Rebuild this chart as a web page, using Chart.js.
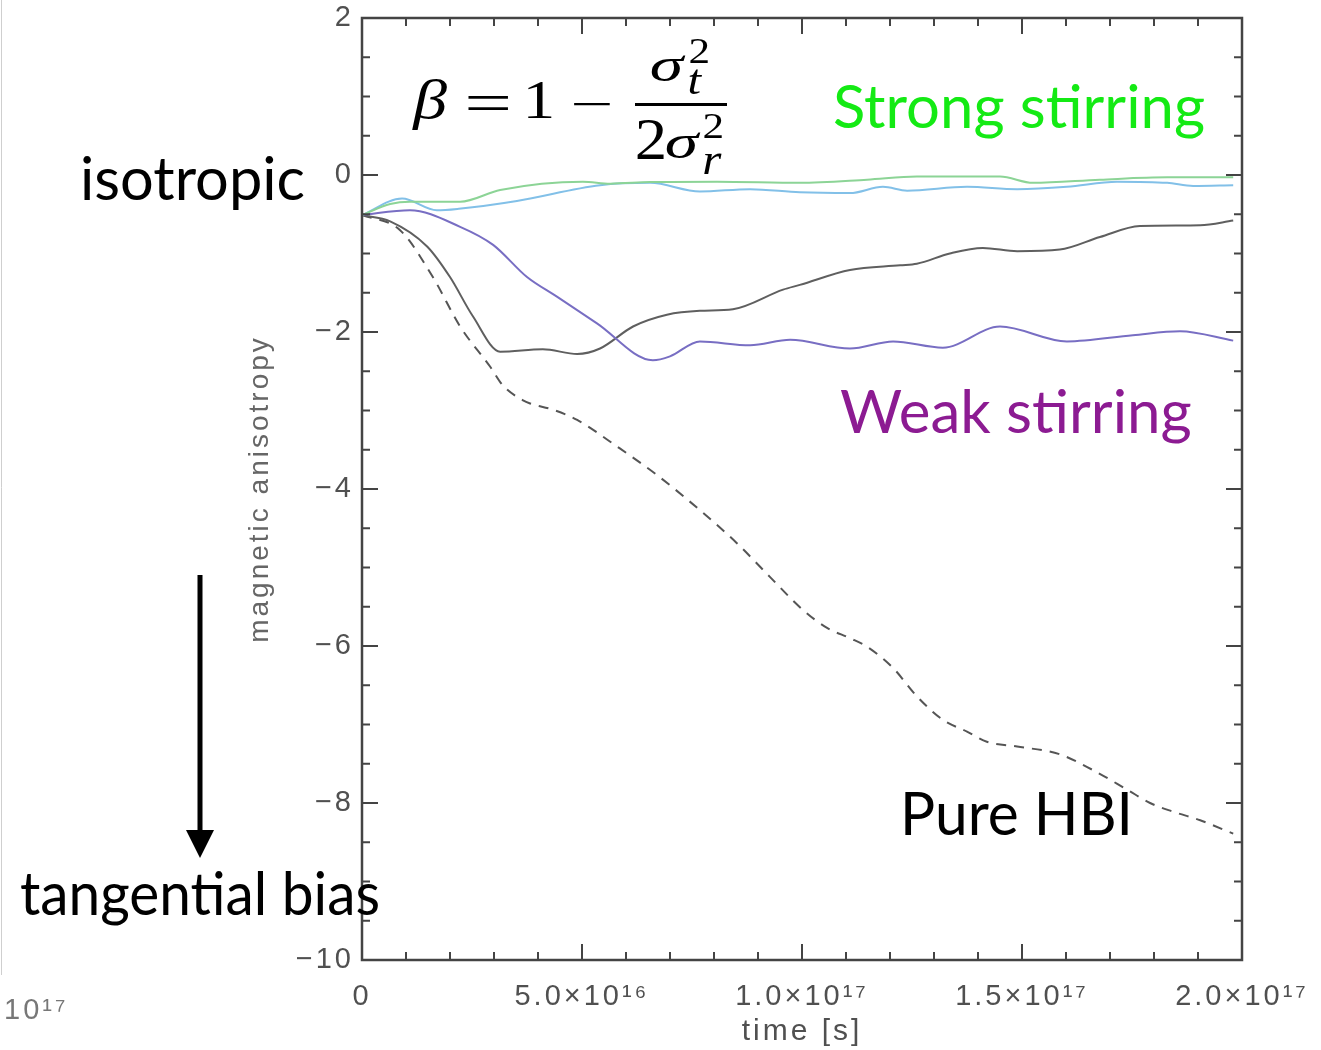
<!DOCTYPE html>
<html>
<head>
<meta charset="utf-8">
<script src="https://cdn.jsdelivr.net/npm/chart.js@4.4.0/dist/chart.umd.min.js"></script>
<style>
  body { margin: 0; background: #fff; }
  #wrap { width: 1321px; height: 1050px; }
</style>
</head>
<body>
<div id="wrap"><canvas id="anisoChart" width="1321" height="1050"></canvas></div>
<script>
// magnetic anisotropy vs time (time in units of 1e16 s)

const strongT1 = [0, 0.64, 1.09, 2.23, 3.14, 5.02, 5.64, 6.55, 8.07, 9.95, 11.48, 12.61, 14.5, 15.25, 16.77, 18.3, 19.8]
const strongA1 = [-0.51, -0.37, -0.34, -0.34, -0.19, -0.085, -0.11, -0.09, -0.085, -0.10, -0.06, -0.02, -0.02, -0.1, -0.06, -0.03, -0.03]

const strongT2 = [0, 0.91, 1.7, 2.2, 3.52, 5.41, 6.55, 7.68, 8.82, 9.95, 11.09, 11.84, 12.39, 13.75, 14.89, 16.02, 17.16, 18.3, 18.89, 19.8]
const strongA2 = [-0.51, -0.30, -0.45, -0.43, -0.33, -0.13, -0.10, -0.21, -0.18, -0.22, -0.23, -0.15, -0.20, -0.15, -0.18, -0.15, -0.085, -0.10, -0.14, -0.13]

const weakT = [0, 1.09, 2.23, 2.98, 3.75, 4.43, 5.34, 6.61, 7.0, 7.68, 8.82, 9.73, 11.09, 12.07, 13.2, 14.5, 16.02, 17.52, 18.59, 19.8]
const weakA = [-0.51, -0.45, -0.66, -0.89, -1.30, -1.55, -1.89, -2.36, -2.31, -2.12, -2.17, -2.10, -2.21, -2.12, -2.20, -1.93, -2.12, -2.04, -1.99, -2.11]

const midT = [0, 0.64, 1.48, 2.0, 2.52, 3.14, 4.11, 4.89, 5.41, 6.16, 6.93, 7.68, 8.43, 9.57, 9.95, 11.09, 12.23, 12.61, 13.36, 14.11, 14.89, 15.86, 16.77, 17.68, 19.05, 19.8]
const midA = [-0.51, -0.59, -0.91, -1.30, -1.80, -2.25, -2.22, -2.28, -2.21, -1.93, -1.78, -1.73, -1.71, -1.46, -1.40, -1.21, -1.15, -1.13, -1.0, -0.93, -0.97, -0.95, -0.79, -0.65, -0.64, -0.58]

const hbiT = [0, 0.86, 1.61, 2.23, 2.91, 3.20, 3.66, 3.82, 4.34, 4.89, 5.80, 6.70, 7.68, 8.52, 9.27, 10.02, 10.57, 11.09, 11.48, 12.07, 12.61, 13.2, 13.75, 14.2, 14.89, 15.86, 16.61, 17.39, 17.91, 18.43, 19.05, 19.8]
const hbiA = [-0.51, -0.70, -1.30, -1.93, -2.44, -2.68, -2.87, -2.91, -2.99, -3.12, -3.46, -3.82, -4.27, -4.69, -5.12, -5.54, -5.77, -5.90, -6.01, -6.28, -6.64, -6.94, -7.09, -7.22, -7.28, -7.38, -7.58, -7.83, -8.0, -8.11, -8.22, -8.39]

const xTickLabels = { 0: '0', 5: '5.0×10¹⁶', 10: '1.0×10¹⁷', 15: '1.5×10¹⁷', 20: '2.0×10¹⁷' }
const yTickLabels = { 2: '2', 0: '0', '-2': '\u22122', '-4': '\u22124', '-6': '\u22126', '-8': '\u22128', '-10': '\u221210' }

const toPoints = (ts, vs) => ts.map((t, i) => ({ x: t, y: vs[i] }))

const axisGrey = '#505050'
const sansFamily = '"Liberation Sans", Arial, sans-serif'
const axisFont = { family: sansFamily, size: 29 }

const noScalePadding = s => {
    s.paddingTop = 0; s.paddingBottom = 0; s.paddingLeft = 0; s.paddingRight = 0
}

// draw a glyph stretched into an ink box (left, top, right, bottom)
const drawInk = (ctx, text, font, l, t, r, b) => {
    ctx.save()
    ctx.font = font
    ctx.textAlign = 'left'
    ctx.textBaseline = 'alphabetic'
    const m = ctx.measureText(text)
    const w = m.actualBoundingBoxLeft + m.actualBoundingBoxRight
    const h = m.actualBoundingBoxAscent + m.actualBoundingBoxDescent
    ctx.translate(l, t)
    ctx.scale((r - l) / w, (b - t) / h)
    ctx.fillText(text, m.actualBoundingBoxLeft, m.actualBoundingBoxAscent)
    ctx.restore()
}

// inward ticks on all four sides + frame
const frameTicks = {
    id: 'frameTicks',
    beforeDraw(chart) {
        chart.ctx.letterSpacing = '3px'
    },
    afterDatasetsDraw(chart) {
        const { ctx, chartArea: a, scales } = chart
        ctx.save()
        ctx.strokeStyle = '#444'
        ctx.lineWidth = 2.5
        ctx.strokeRect(a.left, a.top, a.right - a.left, a.bottom - a.top)
        ctx.lineWidth = 2
        scales.x.ticks.forEach(t => {
            const px = scales.x.getPixelForValue(t.value)
            const len = (t.value % 5 === 0) ? 16 : 8
            ctx.beginPath()
            ctx.moveTo(px, a.bottom); ctx.lineTo(px, a.bottom - len)
            ctx.moveTo(px, a.top); ctx.lineTo(px, a.top + len)
            ctx.stroke()
        })
        scales.y.ticks.forEach(t => {
            const py = scales.y.getPixelForValue(t.value)
            const len = (Math.abs(t.value) % 2 === 0) ? 16 : 8
            ctx.beginPath()
            ctx.moveTo(a.left, py); ctx.lineTo(a.left + len, py)
            ctx.moveTo(a.right, py); ctx.lineTo(a.right - len, py)
            ctx.stroke()
        })
        ctx.restore()
    },
    afterDraw(chart) {
        const ctx = chart.ctx
        ctx.save()
        ctx.textBaseline = 'alphabetic'
        ctx.textAlign = 'left'

        // stray panel edge on the left
        ctx.strokeStyle = '#cfcfcf'
        ctx.lineWidth = 1
        ctx.beginPath(); ctx.moveTo(1.5, 0); ctx.lineTo(1.5, 975); ctx.stroke()
        ctx.fillStyle = '#777'
        ctx.font = '29px ' + sansFamily
        ctx.letterSpacing = '3px'
        ctx.fillText('10¹⁷', 4, 1019)
        ctx.letterSpacing = '0px'

        // formula  beta = 1 - sigma_t^2 / (2 sigma_r^2)
        ctx.fillStyle = '#000'
        const serif = '"Liberation Serif", "Times New Roman", serif'
        const it = 'italic 60px ' + serif
        const up = '60px ' + serif
        drawInk(ctx, 'β', it, 412, 80, 447, 130)
        drawInk(ctx, '=', up, 467, 97, 508, 111)
        drawInk(ctx, '1', up, 528, 82, 552, 118)
        drawInk(ctx, '\u2212', up, 573, 102, 610, 105)
        ctx.fillRect(635, 103, 92, 3)
        drawInk(ctx, 'σ', it, 651, 57, 686, 82)
        drawInk(ctx, '2', up, 690, 40, 708, 63)
        drawInk(ctx, 't', it, 689, 70, 702, 95)
        drawInk(ctx, '2', up, 637, 120, 664, 159)
        drawInk(ctx, 'σ', it, 666, 134, 701, 159)
        drawInk(ctx, '2', up, 704, 115, 722, 138)
        drawInk(ctx, 'r', it, 704, 153, 722, 174)

        // labels
        ctx.font = '60px Lato, "Open Sans", sans-serif'
        ctx.fillStyle = '#14ea14'
        ctx.fillText('Strong stirring', 833, 128, 372)
        ctx.fillStyle = '#8c1b92'
        ctx.fillText('Weak stirring', 840, 433, 352)
        ctx.fillStyle = '#000'
        ctx.fillText('Pure HBI', 900, 835, 233)
        ctx.fillText('isotropic', 80, 200, 225)
        ctx.fillText('tangential bias', 20, 915, 360)

        // arrow
        ctx.strokeStyle = '#000'
        ctx.lineWidth = 5
        ctx.beginPath(); ctx.moveTo(200, 575); ctx.lineTo(200, 836); ctx.stroke()
        ctx.beginPath()
        ctx.moveTo(186, 830); ctx.lineTo(214, 830); ctx.lineTo(200, 858)
        ctx.closePath(); ctx.fill()
        ctx.restore()
    }
}

const ctxEl = document.getElementById('anisoChart')
const anisoChart = new Chart(ctxEl, {
    type: 'line',
    data: {
        datasets: [
            { label: 'strong 1', data: toPoints(strongT1, strongA1), borderColor: 'rgb(140, 212, 150)' },
            { label: 'strong 2', data: toPoints(strongT2, strongA2), borderColor: 'rgb(130, 192, 232)' },
            { label: 'weak', data: toPoints(weakT, weakA), borderColor: 'rgb(120, 110, 195)' },
            { label: 'mid', data: toPoints(midT, midA), borderColor: 'rgb(95, 95, 95)' },
            { label: 'pure HBI', data: toPoints(hbiT, hbiA), borderColor: 'rgb(85, 85, 85)', borderDash: [10, 8] }
        ]
    },
    options: {
        responsive: false,
        animation: false,
        layout: { padding: { left: 236, top: 18, right: 79, bottom: 0 } },
        elements: {
            point: { radius: 0 },
            line: { borderWidth: 2, cubicInterpolationMode: 'monotone' }
        },
        plugins: {
            legend: { display: false },
            tooltip: { enabled: false }
        },
        scales: {
            x: {
                type: 'linear', min: 0, max: 20,
                grid: { display: false, drawTicks: false },
                border: { display: false },
                ticks: {
                    stepSize: 1, autoSkip: false, maxRotation: 0, padding: 20,
                    color: axisGrey, font: axisFont,
                    callback: v => xTickLabels[v] !== undefined ? xTickLabels[v] : ''
                },
                title: { display: true, text: 'time [s]', color: axisGrey, font: { family: sansFamily, size: 30 }, padding: { top: 0, bottom: 0 } },
                afterFit: s => { s.height = 90; noScalePadding(s) }
            },
            y: {
                min: -10, max: 2,
                grid: { display: false, drawTicks: false },
                border: { display: false },
                ticks: {
                    stepSize: 0.5, autoSkip: false, padding: 8,
                    color: axisGrey, font: axisFont,
                    callback: v => yTickLabels[v] !== undefined ? yTickLabels[v] : ''
                },
                title: { display: true, text: 'magnetic anisotropy', color: '#666', font: { family: sansFamily, size: 28 }, padding: { top: 7, bottom: 0 } },
                afterFit: s => { s.width = 362 - 236; noScalePadding(s) }
            }
        }
    },
    plugins: [frameTicks]
})
</script>
</body>
</html>
